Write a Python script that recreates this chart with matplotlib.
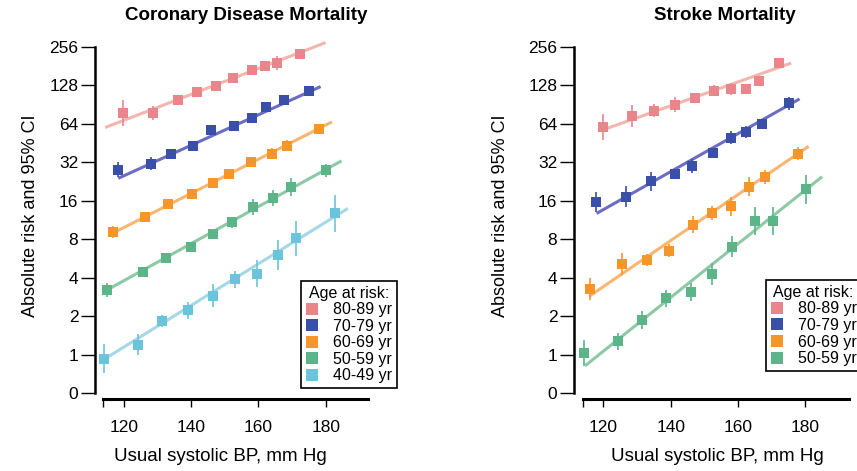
import numpy as np
import matplotlib
matplotlib.use("Agg")
import matplotlib.pyplot as plt
from matplotlib.lines import Line2D

plt.rcParams['font.family'] = ['Liberation Sans', 'DejaVu Sans']

# age groups and colours (marker colour, fit-line colour)
groups = ['80-89 yr', '70-79 yr', '60-69 yr', '50-59 yr', '40-49 yr']
marker_colors = ['#E8868C', '#3A4FA8', '#F5962A', '#5BB589', '#6CC3DC']
line_colors = ['#F2B6AE', '#6B6DC4', '#F9B670', '#8CC9A4', '#A4D8E6']

# ---- Coronary disease mortality ----
chd_x = [
    [119.8, 128.6, 136.0, 141.8, 147.4, 152.5, 158.0, 162.0, 165.4, 172.3],
    [118.4, 128.1, 134.1, 140.7, 146.0, 152.7, 158.0, 162.4, 167.5, 175.0],
    [116.9, 126.2, 133.1, 140.3, 146.4, 151.3, 157.9, 164.0, 168.5, 178.0],
    [115.0, 125.6, 132.5, 139.9, 146.6, 152.3, 158.5, 164.4, 169.6, 180.0],
    [114.2, 124.3, 131.5, 139.2, 146.4, 153.1, 159.6, 165.7, 171.1, 182.7],
]
chd_y = [
    [77, 78, 98, 113, 126, 146, 168, 181, 190, 225],
    [28, 31, 37, 43, 56.5, 61, 70.5, 86, 98, 114],
    [9.06, 12, 15, 18, 22, 25.8, 31.8, 37.3, 43, 58],
    [3.2, 4.4, 5.7, 7.0, 8.8, 10.8, 14.3, 16.8, 20.4, 27.6],
    [0.93, 1.2, 1.83, 2.23, 2.9, 3.9, 4.3, 6.0, 8.1, 12.7],
]
# 95% CI half-width, in doublings
chd_ci = [
    [0.34, 0.18, 0.14, 0.14, 0.12, 0.10, 0.10, 0.12, 0.19, 0.10],
    [0.19, 0.17, 0.12, 0.10, 0.10, 0.10, 0.10, 0.10, 0.08, 0.08],
    [0.15, 0.10, 0.10, 0.10, 0.10, 0.10, 0.10, 0.15, 0.15, 0.10],
    [0.17, 0.12, 0.10, 0.12, 0.12, 0.15, 0.20, 0.20, 0.24, 0.17],
    [0.37, 0.28, 0.15, 0.22, 0.30, 0.22, 0.35, 0.39, 0.45, 0.48],
]
# fitted lines: (x start, y start, x end, y end)
chd_fit = [
    (114.5, 59.6, 180.0, 275),
    (118.4, 23.9, 178.5, 124.5),
    (116.0, 8.7, 181.9, 66),
    (115.0, 3.2, 184.7, 32.7),
    (113.0, 0.88, 186.6, 13.9),
]

# ---- Stroke mortality ----
stroke_x = [
    [120.0, 128.4, 135.1, 141.2, 147.2, 152.9, 158.0, 162.5, 166.4, 172.1],
    [117.7, 126.6, 134.1, 141.2, 146.4, 152.6, 158.0, 162.5, 167.1, 175.1],
    [115.9, 125.6, 132.9, 139.6, 146.5, 152.4, 158.0, 163.3, 168.1, 177.8],
    [114.4, 124.4, 131.5, 138.6, 146.0, 152.4, 158.1, 165.2, 170.4, 180.3],
]
stroke_y = [
    [60, 73, 80.7, 90, 101, 116, 119, 119, 138, 190],
    [15.6, 17.2, 22.6, 26, 29.8, 37.5, 49.5, 55, 64, 92.5],
    [3.27, 5.1, 5.5, 6.5, 10.4, 12.8, 14.4, 20.6, 24.4, 37.3],
    [1.03, 1.27, 1.87, 2.75, 3.1, 4.25, 7.0, 11.1, 11.1, 19.6],
]
stroke_ci = [
    [0.34, 0.28, 0.17, 0.19, 0.12, 0.15, 0.15, 0.10, 0.12, 0.10],
    [0.26, 0.27, 0.24, 0.12, 0.19, 0.12, 0.17, 0.16, 0.12, 0.17],
    [0.29, 0.28, 0.15, 0.17, 0.22, 0.17, 0.24, 0.24, 0.19, 0.17],
    [0.34, 0.22, 0.24, 0.22, 0.24, 0.28, 0.27, 0.37, 0.37, 0.37],
]
stroke_fit = [
    (120.0, 57.3, 175.8, 190),
    (118.0, 12.7, 178.3, 99.7),
    (115.9, 2.87, 181.0, 42.5),
    (114.6, 0.82, 185.0, 24.6),
]

y_ticks = [0.5, 1, 2, 4, 8, 16, 32, 64, 128, 256]
y_ticklabels = ['0', '1', '2', '4', '8', '16', '32', '64', '128', '256']
x_ticks = [114, 120, 140, 160, 180]
x_ticklabels = ['', '120', '140', '160', '180']

fig = plt.figure(figsize=(8.57, 4.71), dpi=100)


def draw_panel(ax, xs, ys, cis, fits, xlim, xend):
    for i in range(len(xs)):
        x = np.array(xs[i])
        y = np.array(ys[i])
        e = np.array(cis[i])
        x0, y0, x1, y1 = fits[i]
        ax.plot([x0, x1], [y0, y1], color=line_colors[i], lw=2.2,
                solid_capstyle='butt', zorder=2)
        ax.vlines(x, y * 2 ** (-e), y * 2 ** e, color=marker_colors[i],
                  lw=1.2, zorder=3)
        ax.plot(x, y, 's', color=marker_colors[i], ms=7, mew=0, zorder=4)
    ax.set_yscale('log', base=2)
    ax.set_ylim(0.4506, 288)
    ax.set_xlim(*xlim)
    ax.set_yticks(y_ticks)
    ax.set_yticklabels(y_ticklabels)
    ax.minorticks_off()
    ax.set_xticks(x_ticks)
    ax.set_xticklabels(x_ticklabels)
    for s in ['top', 'right']:
        ax.spines[s].set_visible(False)
    ax.spines['left'].set_bounds(0.5, 256)
    ax.spines['left'].set_linewidth(1.8)
    ax.spines['bottom'].set_bounds(114, xend)
    ax.spines['bottom'].set_linewidth(2.2)
    ax.tick_params(axis='y', direction='out', length=10, width=1, pad=2,
                   labelsize=12.5)
    ax.tick_params(axis='x', direction='out', length=6, width=1, pad=9,
                   labelsize=12.5)
    ax.patch.set_alpha(0)


ax1 = fig.add_axes([0.1109, 0.1529, 0.3186, 0.7622])
draw_panel(ax1, chd_x, chd_y, chd_ci, chd_fit, (111.5, 192.6), 192.5)
ax2 = fig.add_axes([0.6698, 0.1529, 0.3209, 0.7622])
draw_panel(ax2, stroke_x, stroke_y, stroke_ci, stroke_fit, (111.3, 193.0), 193.0)

fig.text(0.287, 0.968, 'Coronary Disease Mortality', ha='center', va='center',
         fontsize=13.5, fontweight='bold')
fig.text(0.846, 0.968, 'Stroke Mortality', ha='center', va='center',
         fontsize=13.5, fontweight='bold')
for xc in [0.036, 0.584]:
    fig.text(xc, 0.5425, 'Absolute risk and 95% CI', rotation=90,
             ha='center', va='center', fontsize=13)
fig.text(0.2567, 0.030, 'Usual systolic BP, mm Hg', ha='center', va='center',
         fontsize=13.5)
fig.text(0.8366, 0.030, 'Usual systolic BP, mm Hg', ha='center', va='center',
         fontsize=13.5)


def add_legend(n, anchor):
    handles = [Line2D([], [], marker='s', ls='none', color=marker_colors[i],
                      ms=8, mew=0) for i in range(n)]
    leg = fig.legend(handles, groups[:n], loc='upper left',
                     bbox_to_anchor=anchor, title='Age at risk:',
                     fontsize=11.5, title_fontsize=11.5, fancybox=False,
                     framealpha=1, edgecolor='black', handlelength=0.8,
                     handletextpad=0.9, labelspacing=0.1, borderpad=0.3,
                     borderaxespad=0)
    leg.get_frame().set_linewidth(1.2)


add_legend(5, (0.3512, 0.404))
add_legend(4, (0.8935, 0.4055))

fig.savefig('out.png', dpi=100)
